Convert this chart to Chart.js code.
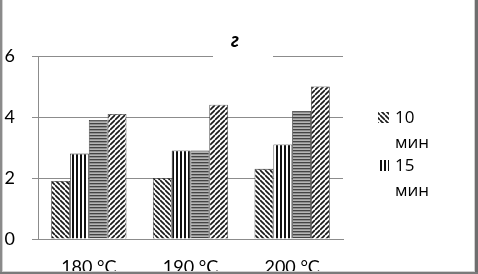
<!DOCTYPE html>
<html>
<head>
<meta charset="utf-8">
<script src="https://cdn.jsdelivr.net/npm/chart.js@4/dist/chart.umd.min.js"></script>
<style>
  html, body { margin: 0; padding: 0; background: #fff; }
  #wrap { position: relative; width: 478px; height: 274px; }
</style>
</head>
<body>
<div id="wrap">
  <canvas id="barChart" width="478" height="274"></canvas>
</div>
<script>
/* =========================
   DATA
========================= */

const categories = ["180 °C", "190 °C", "200 °C"];

const seriesNames = ["10 мин", "15 мин", "20 мин", "25 мин"];

const series10 = [1.9, 2.0, 2.3];
const series15 = [2.8, 2.9, 3.1];
const series20 = [3.9, 2.9, 4.2];
const series25 = [4.1, 4.4, 5.0];

const yTicks = [0, 2, 4, 6];

const titleText = "г";

/* =========================
   HATCH PATTERNS
========================= */

const FONT = "Lato, 'Open Sans', sans-serif";

function makePattern(kind) {

  const tile = document.createElement("canvas");
  const ctx = tile.getContext("2d");

  if (kind === "back" || kind === "fwd") {

    const s = 5;
    tile.width = s;
    tile.height = s;
    ctx.fillStyle = "#fff";
    ctx.fillRect(0, 0, s, s);
    ctx.strokeStyle = "#1a1a1a";
    ctx.lineWidth = 1.7;

    for (let k = -1; k <= 2; k++) {
      ctx.beginPath();
      if (kind === "back") {
        ctx.moveTo(0, k * s);
        ctx.lineTo(s, k * s + s);
      } else {
        ctx.moveTo(0, k * s);
        ctx.lineTo(s, k * s - s);
      }
      ctx.stroke();
    }

  } else if (kind === "vert") {

    tile.width = 4;
    tile.height = 1;
    ctx.fillStyle = "#fff";
    ctx.fillRect(0, 0, 4, 1);
    ctx.fillStyle = "#111";
    ctx.fillRect(0, 0, 2, 1);

  } else {

    tile.width = 1;
    tile.height = 3;
    ctx.fillStyle = "#444";
    ctx.fillRect(0, 0, 1, 1);
    ctx.fillStyle = "#8f8f8f";
    ctx.fillRect(0, 1, 1, 1);
    ctx.fillStyle = "#b5b5b5";
    ctx.fillRect(0, 2, 1, 1);

  }

  return ctx.createPattern(tile, "repeat");

}

const patterns = [
  makePattern("back"),
  makePattern("vert"),
  makePattern("horiz"),
  makePattern("fwd")
];

/* =========================
   PLUGIN: TITLE, LEGEND, FRAME
========================= */

const decorPlugin = {

  id: "decor",

  afterDraw(chart) {

    const ctx = chart.ctx;
    const area = chart.chartArea;

    ctx.save();

    // title with white gap over top gridline
    ctx.fillStyle = "#fff";
    ctx.fillRect(213, area.top - 6, 60, 12);

    ctx.fillStyle = "#000";
    ctx.font = "italic bold 20px " + FONT;
    ctx.textAlign = "center";
    ctx.textBaseline = "middle";
    ctx.fillText(titleText, 235, 41);

    // legend (only first two entries fit)
    ctx.font = "17px 'Open Sans', sans-serif";
    ctx.textAlign = "left";

    const legendTops = [118, 166];

    legendTops.forEach((y, i) => {

      ctx.fillStyle = patterns[i];
      ctx.fillRect(378, y - 6, 11, 11);

      const parts = seriesNames[i].split(" ");
      ctx.fillStyle = "#000";
      ctx.fillText(parts[0], 395, y);
      ctx.fillText(parts[1], 395, y + 25);

    });

    // outer frame
    ctx.fillStyle = "#d0d0d0";
    ctx.fillRect(2, 0, 1, 272);
    ctx.fillRect(474, 0, 1, 272);
    ctx.fillRect(0, 271, 478, 1);

    ctx.fillStyle = "#8a8a8a";
    ctx.fillRect(0, 0, 2, 274);
    ctx.fillStyle = "#6e6e6e";
    ctx.fillRect(475, 0, 3, 274);
    ctx.fillStyle = "#7a7a7a";
    ctx.fillRect(0, 272, 478, 2);

    ctx.restore();

  }

};

/* =========================
   BAR CHART
========================= */

const barCtx =
  document
    .getElementById("barChart")
    .getContext("2d");

const allSeries = [series10, series15, series20, series25];

const barChart =
  new Chart(barCtx, {

    type: "bar",

    data: {

      labels: categories,

      datasets: allSeries.map((values, i) => ({
        label: seriesNames[i],
        data: values,
        backgroundColor: patterns[i],
        borderColor: "#333",
        borderWidth: 0.8,
        categoryPercentage: 0.74,
        barPercentage: 1.0
      }))

    },

    plugins: [decorPlugin],

    options: {

      responsive: false,

      animation: false,

      devicePixelRatio: 1,

      layout: {
        padding: {
          top: 56,
          right: 135,
          left: 0,
          bottom: 0
        }
      },

      plugins: {

        legend: {
          display: false
        },

        title: {
          display: false
        },

        tooltip: {
          enabled: false
        }

      },

      scales: {

        x: {

          grid: {
            display: false,
            drawTicks: false
          },

          border: {
            display: true,
            color: "#8c8c8c",
            width: 1
          },

          ticks: {
            color: "#000",
            padding: 17,
            font: {
              family: FONT,
              size: 18
            }
          },

          afterFit(scale) {
            scale.height = 35;
          }

        },

        y: {

          min: 0,
          max: 6,

          afterBuildTicks(scale) {
            scale.ticks = yTicks.map(v => ({ value: v }));
          },

          grid: {
            color: "#8c8c8c",
            lineWidth: 1,
            drawTicks: true,
            tickLength: 6
          },

          border: {
            display: true,
            color: "#8c8c8c",
            width: 1
          },

          ticks: {
            color: "#000",
            padding: 17,
            font: {
              family: FONT,
              size: 18
            }
          },

          afterFit(scale) {
            scale.width = 38;
          }

        }

      }

    }

  });
</script>
</body>
</html>
